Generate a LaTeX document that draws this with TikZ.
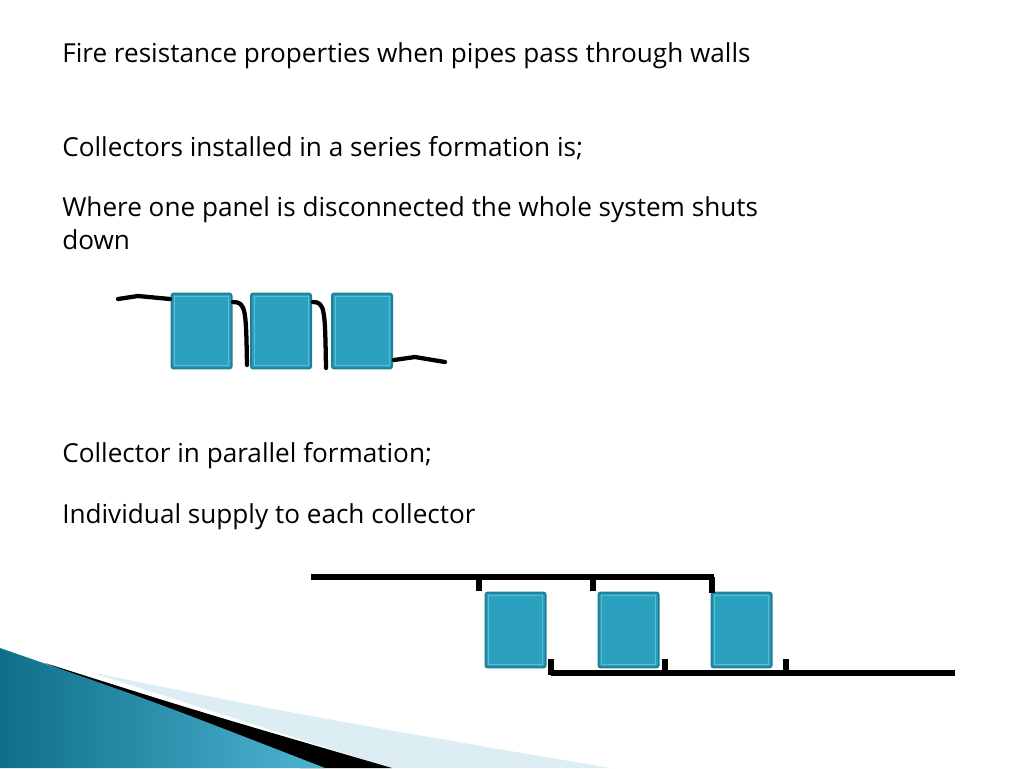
\documentclass[tikz,border=0pt]{standalone}
\usepackage{fontspec}
\setmainfont{Open Sans}
\usetikzlibrary{calc}
\definecolor{pf}{HTML}{2BA1BF}
\definecolor{pd}{HTML}{1E7F96}
\definecolor{pi}{HTML}{5BBCD6}
\definecolor{teal1}{HTML}{0E6F8A}
\definecolor{teal2}{HTML}{4DB5D3}
\definecolor{lb}{HTML}{DCEDF4}
\begin{document}
\begin{tikzpicture}[x=0.75pt,y=-0.75pt,
  txt/.style={anchor=west,inner sep=0,font=\fontsize{19.6}{24}\selectfont},
  panel/.style={draw=pd,line width=1.5pt,fill=pf,rounded corners=1.5pt,minimum width=45pt,minimum height=56pt,inner sep=0},
  inner/.style={draw=pi,line width=0.6pt},
  pipe/.style={line width=3.2pt,line cap=round,line join=round},
  pp/.style={line width=4pt}]
\useasboundingbox (0,0) rectangle (1024,768);
% decoration
\fill[lb] (90,672) .. controls (300,715) .. (610,768) -- (390,768) -- cycle;
\fill[black] (45,663) .. controls (200,712) .. (392,768) -- (300,768) -- cycle;
\shade[left color=teal1,right color=teal2] (0,648) .. controls (150,700) .. (325,768) -- (0,768) -- cycle;
% texts
\node[txt] (t1) at (62,56) {Fire resistance properties when pipes pass through walls};
\node[txt] (t2) at (62,148) {Collectors installed in a series formation is;};
\node[txt] (t3) at (62,210) {Where one panel is disconnected the whole system shuts};
\node[txt] (t4) at (62,240) {down};
\node[txt] (t5) at (62,456) {Collector in parallel formation;};
\node[txt] (t6) at (62,517) {Individual supply to each collector};
% series panels
\foreach \n/\x/\y in {s1/201.5/331,s2/281/331,s3/362/331,p1/515.5/630,p2/628.5/630,p3/741.5/630}{
  \node[panel] (\n) at (\x,\y) {};
  \draw[inner] ($(\n.south west)+(3pt,3pt)$) rectangle ($(\n.north east)+(-3pt,-3pt)$);
}
\coordinate (a0) at (118,299);
\coordinate (a1) at (247,365);
\coordinate (a2) at (326,368);
\coordinate (a3) at (445,362);
\draw[pipe] (a0) -- (138,296) -- (170,299);
\draw[pipe] (233,302) .. controls (246,302) and (246,310) .. (a1);
\draw[pipe] (313,302) .. controls (325,302) and (325,310) .. (a2);
\draw[pipe] (394,360) -- (415,357) -- (a3);
% parallel pipes
\draw[pp] (311,577) -- (714,577);
\draw[pp] (479,577) -- (479,591);
\draw[pp] (593,577) -- (593,591);
\draw[pp] (712,577) -- (712,593);
\draw[pp] (551,673) -- (955,673);
\draw[pp] (551,659) -- (551,675);
\draw[pp] (665,659) -- (665,673);
\draw[pp] (786,659) -- (786,673);
\end{tikzpicture}
\end{document}
